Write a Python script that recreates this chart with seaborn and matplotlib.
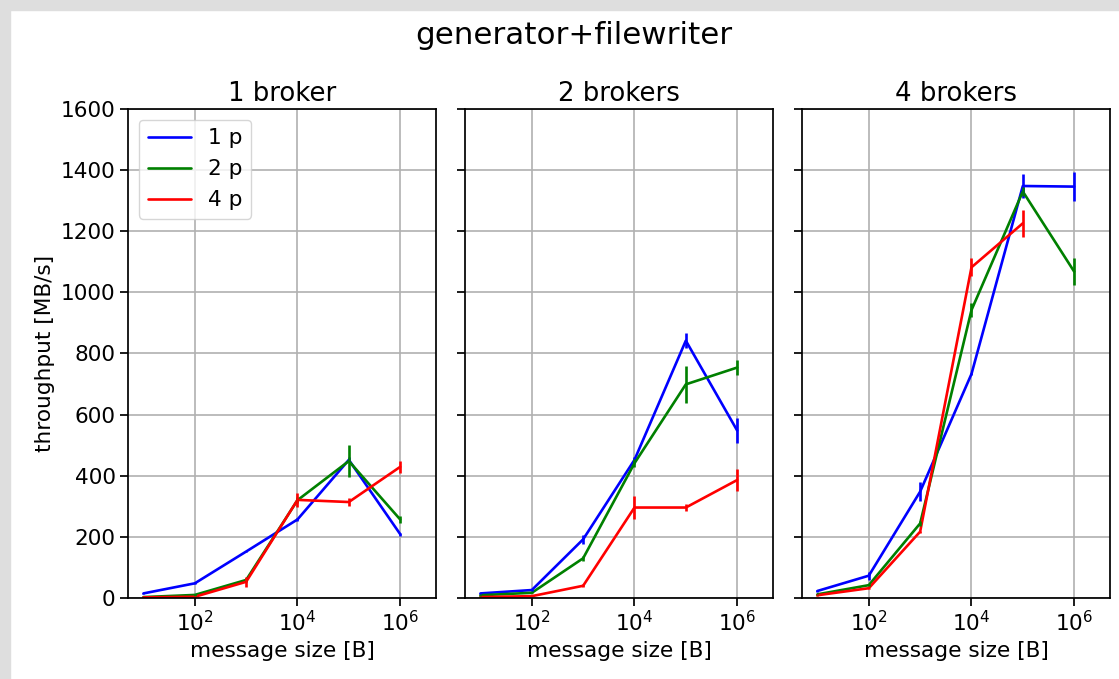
import numpy as np
import pandas as pd
import matplotlib
matplotlib.use("Agg")
import matplotlib.pyplot as plt
from matplotlib.patches import Rectangle
import seaborn as sns

sizes = [10, 100, 1000, 1e4, 1e5, 1e6]
partitions = ["1 p", "2 p", "4 p"]
panel_titles = ["1 broker", "2 brokers", "4 brokers"]

b1_p1 = [15, 48, 152, 257, 452, 209]
b1_p1_err = [2, 3, 3, 5, 8, 5]
b1_p2 = [3, 10, 59, 320, 448, 257]
b1_p2_err = [1, 2, 6, 10, 52, 12]
b1_p4 = [2, 4, 53, 321, 314, 429]
b1_p4_err = [1, 1, 16, 22, 12, 20]

b2_p1 = [15, 26, 192, 452, 842, 548]
b2_p1_err = [2, 2, 14, 8, 25, 41]
b2_p2 = [9, 17, 130, 441, 699, 754]
b2_p2_err = [1, 2, 8, 14, 60, 25]
b2_p4 = [3, 6, 40, 296, 296, 386]
b2_p4_err = [1, 1, 5, 37, 10, 36]

b4_p1 = [23, 73, 348, 733, 1348, 1346]
b4_p1_err = [2, 13, 30, 3, 38, 48]
b4_p2 = [12, 42, 244, 942, 1330, 1068]
b4_p2_err = [1, 3, 8, 22, 15, 45]
b4_p4 = [9, 32, 217, 1082, 1226, np.nan]
b4_p4_err = [1, 2, 3, 30, 45, np.nan]

panels = [
    [(b1_p1, b1_p1_err), (b1_p2, b1_p2_err), (b1_p4, b1_p4_err)],
    [(b2_p1, b2_p1_err), (b2_p2, b2_p2_err), (b2_p4, b2_p4_err)],
    [(b4_p1, b4_p1_err), (b4_p2, b4_p2_err), (b4_p4, b4_p4_err)],
]
colors = {"1 p": "#0000ff", "2 p": "#008000", "4 p": "#ff0000"}

sns.set_style("ticks")
plt.rcParams["font.family"] = ["DejaVu Sans"]
plt.rcParams["text.color"] = "black"
plt.rcParams["axes.labelcolor"] = "black"
plt.rcParams["xtick.color"] = "black"
plt.rcParams["ytick.color"] = "black"

FS = 15.6
LW = 1.9

fig, axes = plt.subplots(1, 3, figsize=(11.19, 6.79), dpi=100, sharey=True)
fig.subplots_adjust(left=0.1144, right=0.992, top=0.8395, bottom=0.1193, wspace=0.094)

for i, (ax, series, title) in enumerate(zip(axes, panels, panel_titles)):
    rows = []
    for p, (vals, errs) in zip(partitions, series):
        for s, v, e in zip(sizes, vals, errs):
            rows.append({"size": s, "tp": v, "err": e, "part": p})
    df = pd.DataFrame(rows).dropna()
    sns.lineplot(data=df, x="size", y="tp", hue="part", palette=colors,
                 ax=ax, linewidth=LW, legend=(i == 0), estimator=None)
    for p in partitions:
        d = df[df["part"] == p]
        ax.errorbar(d["size"], d["tp"], yerr=d["err"], fmt="none",
                    ecolor=colors[p], elinewidth=LW, capsize=0)
    ax.set_xscale("log")
    ax.set_xlim(5, 5e6)
    ax.set_ylim(0, 1600)
    ax.set_xticks([1e2, 1e4, 1e6])
    ax.set_xticklabels([r"$10^2$", r"$10^4$", r"$10^6$"])
    ax.xaxis.set_minor_locator(matplotlib.ticker.NullLocator())
    ax.set_yticks(range(0, 1601, 200))
    ax.grid(True, color="#b0b0b0", linewidth=1.2)
    ax.set_axisbelow(True)
    for sp in ax.spines.values():
        sp.set_visible(True)
        sp.set_color("black")
        sp.set_linewidth(1.25)
    ax.tick_params(axis="both", labelsize=FS, length=5.5, width=1.25,
                   color="black", labelcolor="black", direction="out")
    ax.set_title(title, fontsize=18.7, color="black")
    ax.set_xlabel("message size [B]", fontsize=FS)
    ax.set_ylabel("throughput [MB/s]" if i == 0 else "", fontsize=FS)

leg = axes[0].legend(loc="upper left", fontsize=FS, frameon=True, handlelength=2.0,
                     fancybox=True, framealpha=0.8, edgecolor="#cccccc")
for h in leg.get_lines():
    h.set_linewidth(LW)

fig.suptitle("generator+filewriter", fontsize=22.3, x=0.5125, y=0.948, va="center",
             color="black")

fig.add_artist(Rectangle((0, 1 - 10 / 679), 1, 10 / 679, transform=fig.transFigure,
                         color="#dedede", zorder=-1))
fig.add_artist(Rectangle((0, 0), 10 / 1119, 1, transform=fig.transFigure,
                         color="#dedede", zorder=-1))

fig.savefig("out.png", dpi=100)
